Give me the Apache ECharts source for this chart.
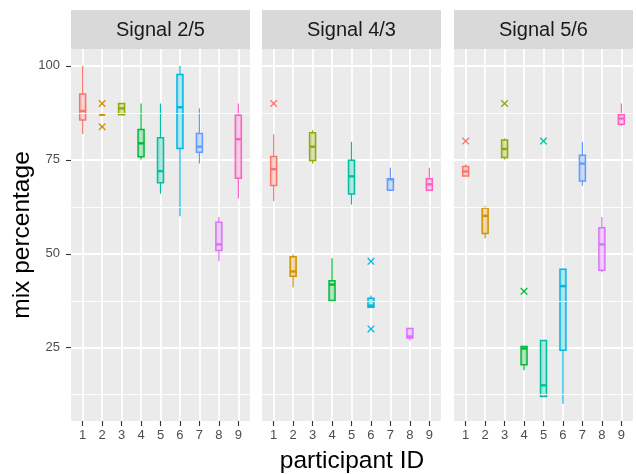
<!DOCTYPE html>
<html>
<head>
<meta charset="utf-8">
<script src="https://cdn.jsdelivr.net/npm/echarts@6/dist/echarts.min.js"></script>
<style>
html,body{margin:0;padding:0;background:#fff;}
#chart{width:636px;height:474px;}
</style>
</head>
<body>
<div id="chart"></div>
<script>
// ---- data ----
const categories = ['1','2','3','4','5','6','7','8','9'];
const panelTitles = ['Signal 2/5','Signal 4/3','Signal 5/6'];
const yTicks = [25, 50, 75, 100];
const yMinorTicks = [12.5, 37.5, 62.5, 87.5];
const palette = ['#F8766D','#D39200','#93AA00','#00BA38','#00C19F','#00B9E3','#619CFF','#DB72FB','#FF61C3'];

// [lower whisker, Q1, median, Q3, upper whisker] per participant
const signal25Boxes = [
  [81.9, 85.6, 88.0, 92.5, 100],
  [87.0, 87.0, 87.0, 87.0, 87.0],
  [87.0, 87.0, 88.7, 90.0, 90.0],
  [75.1, 75.8, 79.4, 83.1, 90.0],
  [66.0, 68.9, 72.0, 80.9, 90.0],
  [60.0, 78.0, 89.0, 97.7, 100],
  [74.0, 77.0, 78.5, 82.0, 88.7],
  [48.0, 50.9, 52.5, 58.4, 59.8],
  [64.7, 70.1, 80.5, 86.9, 90.0]
];
const signal43Boxes = [
  [64.0, 68.2, 72.5, 75.9, 81.8],
  [41.0, 44.0, 45.3, 49.2, 49.8],
  [74.0, 74.8, 78.5, 82.2, 82.9],
  [37.1, 37.6, 41.8, 42.8, 48.8],
  [63.1, 65.9, 70.6, 74.9, 79.8],
  [35.8, 35.8, 36.2, 38.2, 38.9],
  [66.9, 66.9, 69.8, 70.0, 72.9],
  [26.9, 27.6, 28.0, 30.1, 30.3],
  [66.9, 66.9, 68.5, 70.0, 72.9]
];
const signal56Boxes = [
  [70.7, 70.7, 71.9, 73.2, 73.8],
  [54.1, 55.4, 60.1, 62.2, 62.8],
  [75.1, 75.6, 77.9, 80.3, 80.7],
  [19.0, 20.5, 24.8, 25.3, 25.3],
  [12.0, 12.0, 15.0, 26.9, 26.9],
  [10.1, 24.3, 41.4, 45.9, 45.9],
  [68.1, 69.4, 74.0, 76.2, 79.8],
  [45.1, 45.6, 52.5, 56.9, 59.8],
  [84.0, 84.5, 86.0, 87.0, 90.0]
];
// [participant, value]
const signal25Outliers = [[2, 90.0], [2, 83.8]];
const signal43Outliers = [[1, 90.0], [6, 48.0], [6, 30.0]];
const signal56Outliers = [[1, 80.0], [3, 90.0], [4, 40.0], [5, 80.0]];

const panelBoxes = [signal25Boxes, signal43Boxes, signal56Boxes];
const panelOutliers = [signal25Outliers, signal43Outliers, signal56Outliers];

// ---- layout ----
const panelLeft = [71, 262, 454];
const panelWidth = 179;
const panelTop = 49;
const panelHeight = 372;
const FONT = '"Liberation Sans", Arial, Helvetica, sans-serif';

function hexToRgba(hex, a) {
  const n = parseInt(hex.slice(1), 16);
  return 'rgba(' + ((n >> 16) & 255) + ',' + ((n >> 8) & 255) + ',' + (n & 255) + ',' + a + ')';
}

function renderBox(params, api) {
  const x = api.value(0);
  const lo = api.coord([x, api.value(1)]);
  const q1 = api.coord([x, api.value(2)]);
  const md = api.coord([x, api.value(3)]);
  const q3 = api.coord([x, api.value(4)]);
  const hi = api.coord([x, api.value(5)]);
  const c = palette[x - 1];
  const hw = 3.0;
  const children = [];
  if (lo[1] - q1[1] > 0.01) children.push({type:'line', shape:{x1:q1[0], y1:q1[1], x2:lo[0], y2:lo[1]}, style:{stroke:c, lineWidth:1.2}});
  if (q3[1] - hi[1] > 0.01) children.push({type:'line', shape:{x1:q3[0], y1:q3[1], x2:hi[0], y2:hi[1]}, style:{stroke:c, lineWidth:1.2}});
  children.push({type:'rect', shape:{x:q3[0]-hw, y:q3[1], width:2*hw, height:q1[1]-q3[1]}, style:{fill:hexToRgba(c, 0.3), stroke:c, lineWidth:1.5}});
  children.push({type:'line', shape:{x1:md[0]-hw, y1:md[1], x2:md[0]+hw, y2:md[1]}, style:{stroke:c, lineWidth:2.4}});
  return {type:'group', children};
}

function renderCross(params, api) {
  const x = api.value(0);
  const p = api.coord([x, api.value(1)]);
  const c = palette[x - 1];
  const s = 3.3;
  return {type:'group', children:[
    {type:'line', shape:{x1:p[0]-s, y1:p[1]-s, x2:p[0]+s, y2:p[1]+s}, style:{stroke:c, lineWidth:1.3}},
    {type:'line', shape:{x1:p[0]-s, y1:p[1]+s, x2:p[0]+s, y2:p[1]-s}, style:{stroke:c, lineWidth:1.3}}
  ]};
}

const catValues = categories.map((c, i) => i + 1);

const grids = [], xAxes = [], yAxes = [], series = [], graphics = [];
for (let p = 0; p < 3; p++) {
  grids.push({left: panelLeft[p], top: panelTop, width: panelWidth, height: panelHeight,
    show: true, backgroundColor: '#EBEBEB', borderWidth: 0, containLabel: false});
  xAxes.push({type:'value', gridIndex:p, min:0.4, max:9.6,
    axisLine:{show:false},
    axisTick:{show:true, customValues: catValues, length:5, lineStyle:{color:'#333333', width:1.1}},
    axisLabel:{show:true, customValues: catValues, margin:8, color:'#4D4D4D', fontSize:13, fontFamily:FONT,
      formatter: v => categories[Math.round(v) - 1] || ''},
    splitLine:{show:true, lineStyle:{color:'#FFFFFF', width:1.8}}
  });
  yAxes.push({type:'value', gridIndex:p, min:5.5, max:104.5,
    axisLine:{show:false},
    axisTick:{show: p === 0, customValues: yTicks, length:5, lineStyle:{color:'#333333', width:1.1}},
    axisLabel:{show: p === 0, customValues: yTicks, margin:11, color:'#4D4D4D', fontSize:13, fontFamily:FONT},
    splitLine:{show:true, lineStyle:{color:'#FFFFFF', width:1.8}}
  });
  series.push({type:'scatter', xAxisIndex:p, yAxisIndex:p, data:[], z:1, silent:true,
    markLine:{silent:true, symbol:'none', label:{show:false},
      lineStyle:{color:'#FFFFFF', width:0.9, type:'solid'},
      emphasis:{disabled:true},
      data: yMinorTicks.map(v => ({yAxis: v}))}
  });
  series.push({type:'custom', xAxisIndex:p, yAxisIndex:p, z:3, silent:true,
    renderItem: renderBox,
    data: panelBoxes[p].map((b, i) => [i + 1].concat(b))
  });
  series.push({type:'custom', xAxisIndex:p, yAxisIndex:p, z:4, silent:true,
    renderItem: renderCross,
    data: panelOutliers[p]
  });
  graphics.push({type:'rect', left: panelLeft[p], top: 10, shape:{width: panelWidth, height: 39},
    style:{fill:'#D9D9D9'}, z:0});
  graphics.push({type:'text', x: panelLeft[p] + panelWidth / 2, y: 30,
    style:{text: panelTitles[p], fill:'#1A1A1A', font: '20px ' + FONT, textAlign:'center', textVerticalAlign:'middle'}});
}
graphics.push({type:'text', x: (panelLeft[0] + panelLeft[2] + panelWidth) / 2, y: 461,
  style:{text:'participant ID', fill:'#000000', font:'24.5px ' + FONT, textAlign:'center', textVerticalAlign:'middle'}});
graphics.push({type:'text', x: 22, y: panelTop + panelHeight / 2, rotation: Math.PI / 2,
  style:{text:'mix percentage', fill:'#000000', font:'24.5px ' + FONT, textAlign:'center', textVerticalAlign:'middle'}});

const chart = echarts.init(document.getElementById('chart'), null, {renderer:'canvas'});
chart.setOption({
  animation: false,
  backgroundColor: '#FFFFFF',
  grid: grids,
  xAxis: xAxes,
  yAxis: yAxes,
  series: series,
  graphic: graphics
});
</script>
</body>
</html>
